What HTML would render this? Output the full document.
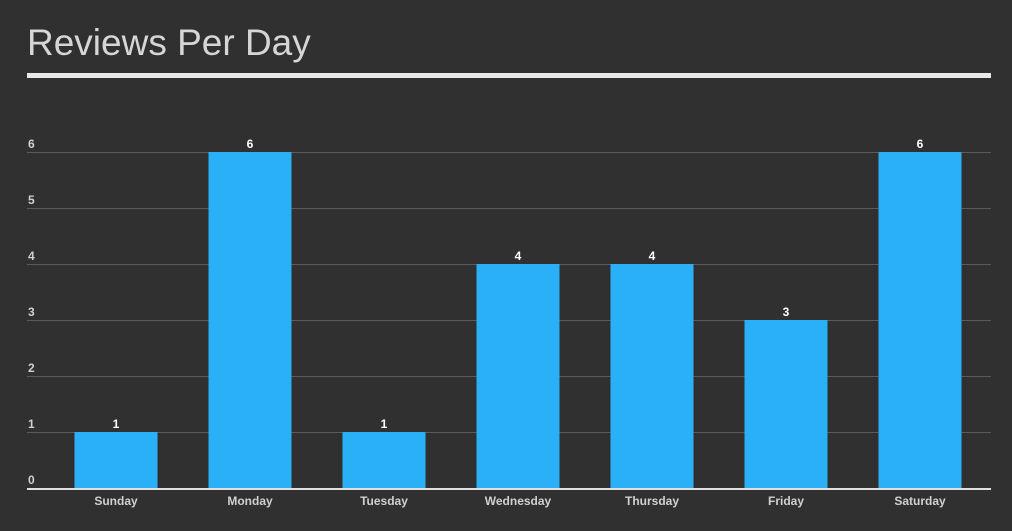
<!DOCTYPE html>
<html><head><meta charset="utf-8"><style>
body{margin:0;background:#303030;width:1012px;height:531px;overflow:hidden;font-family:"Liberation Sans",sans-serif}
#title{position:absolute;left:27px;top:22px;font-size:37px;color:#d6d6d6;margin:0;font-weight:normal}
#rule{position:absolute;left:27px;top:73px;width:964px;height:5px;background:#e8e8e8}
svg{position:absolute;left:0;top:0}
</style></head><body>
<h1 id="title">Reviews Per Day</h1>
<div id="rule"></div>
<svg id="chart" width="1012" height="531"></svg>
<script>
const categories=["Sunday","Monday","Tuesday","Wednesday","Thursday","Friday","Saturday"];
const values=[1,6,1,4,4,3,6];
const yTicks=[0,1,2,3,4,5,6];
const NS="http://www.w3.org/2000/svg";
const svg=document.getElementById('chart');
const y0=488,unit=56,x0=49,band=134,bw=83,left=27,right=991;
const y=v=>y0-v*unit;
const xc=i=>x0+band*i+band/2;
function mk(t,a,txt){const e=document.createElementNS(NS,t);for(const k in a)e.setAttribute(k,a[k]);if(txt!=null)e.textContent=txt;svg.appendChild(e);return e;}
yTicks.forEach(v=>{
 if(v>0){const g=mk('line',{x1:left,x2:right,y1:y(v)+0.5,y2:y(v)+0.5,stroke:'#5a5a5a','stroke-width':1});
 
 }
 const t=mk('text',{x:28,y:y(v)-4,fill:'#d0d0d0','font-size':12,'font-weight':'bold'},v);
 
 
});
categories.forEach((c,i)=>{
 const r=mk('rect',{x:xc(i)-bw/2,y:y(values[i]),width:bw,height:values[i]*unit,fill:'#29b0f6'});
 
 
 const l=mk('text',{x:xc(i),y:y(values[i])-4,fill:'#ffffff','font-size':12,'font-weight':'bold','text-anchor':'middle'},values[i]);
 
 
 const xl=mk('text',{x:xc(i),y:505,fill:'#d0d0d0','font-size':12,'font-weight':'bold','text-anchor':'middle'},c);
 
 
});
const ax=mk('rect',{x:left,y:y0,width:right-left,height:2,fill:'#e0e0e0'});


</script>
</body></html>
